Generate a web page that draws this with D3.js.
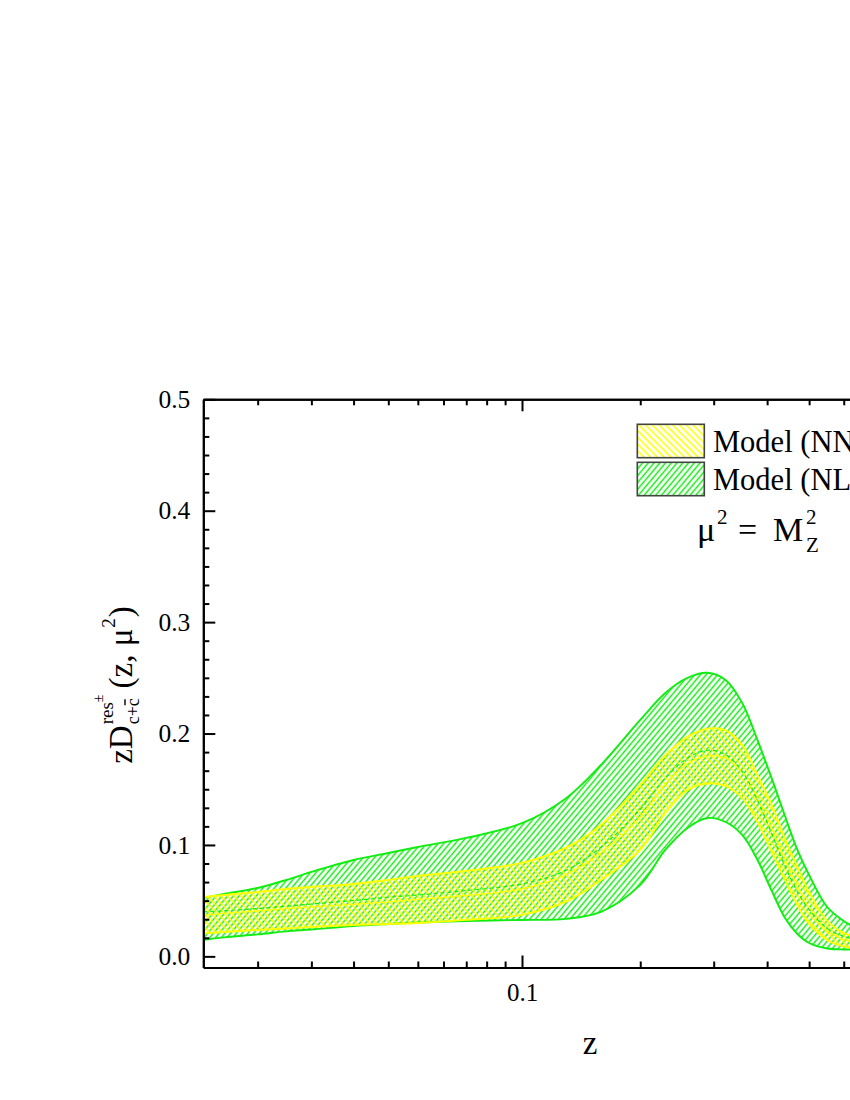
<!DOCTYPE html>
<html>
<head>
<meta charset="utf-8">
<script src="https://cdn.jsdelivr.net/npm/d3@7/dist/d3.min.js"></script>
<style>
  html, body { margin: 0; padding: 0; background: #fff; }
  svg { display: block; }
  text { font-family: "Liberation Serif", "Times New Roman", serif; fill: #000; }
</style>
</head>
<body>
<svg id="chart" width="850" height="1100"></svg>
<script>
// ---------------- data ----------------
const zGrid = [0.0023, 0.005, 0.01, 0.015, 0.02, 0.03, 0.04, 0.05, 0.07, 0.1, 0.13, 0.16, 0.2, 0.23, 0.26, 0.29, 0.32, 0.35, 0.38, 0.41, 0.44, 0.47, 0.5, 0.55, 0.6, 0.65, 0.7];

const nloHigh = [0.0524, 0.056, 0.0614, 0.0686, 0.0758, 0.0865, 0.0928, 0.0982, 0.1063, 0.1195, 0.1415, 0.1718, 0.2122, 0.2364, 0.250, 0.2545, 0.2481, 0.2275, 0.194, 0.1597, 0.126, 0.0955, 0.073, 0.0443, 0.0318, 0.0237, 0.018];
const nloLow  = [0.0147, 0.017, 0.0197, 0.0224, 0.0241, 0.0273, 0.0291, 0.0304, 0.0318, 0.0327, 0.0336, 0.0399, 0.0641, 0.0955, 0.1153, 0.1242, 0.1206, 0.109, 0.0865, 0.0587, 0.0345, 0.0201, 0.012, 0.0071, 0.0062, 0.0062, 0.0065];
const nloCentral = [0.040, 0.041, 0.043, 0.045, 0.047, 0.050, 0.053, 0.055, 0.059, 0.065, 0.077, 0.098, 0.132, 0.160, 0.178, 0.185, 0.181, 0.166, 0.140, 0.110, 0.081, 0.058, 0.042, 0.025, 0.018, 0.0145, 0.012];

const nnloHigh = [0.0533, 0.0551, 0.0578, 0.0605, 0.0623, 0.065, 0.0686, 0.0722, 0.0767, 0.0839, 0.0973, 0.118, 0.154, 0.1804, 0.197, 0.2044, 0.2028, 0.1898, 0.1624, 0.1359, 0.1054, 0.080, 0.0578, 0.0318, 0.021, 0.0165, 0.0138];
const nnloLow  = [0.0206, 0.0219, 0.0237, 0.025, 0.0264, 0.0282, 0.0291, 0.030, 0.0327, 0.0372, 0.0488, 0.0686, 0.0955, 0.1287, 0.1494, 0.1552, 0.153, 0.1422, 0.1206, 0.0937, 0.0686, 0.0461, 0.0291, 0.0147, 0.0089, 0.0066, 0.0057];
const nnloCentral = [0.037, 0.0385, 0.0408, 0.0428, 0.0444, 0.0466, 0.0488, 0.0511, 0.0547, 0.0605, 0.073, 0.093, 0.125, 0.1545, 0.1732, 0.1798, 0.1779, 0.166, 0.1415, 0.1148, 0.087, 0.063, 0.0435, 0.0232, 0.015, 0.0115, 0.0098];

const xMajorTicks = [0.1, 1];
const xMajorLabels = ["0.1", ""];
const xMinorTicks = [0.01, 0.02, 0.03, 0.04, 0.05, 0.06, 0.07, 0.08, 0.09, 0.2, 0.3, 0.4, 0.5, 0.6, 0.7, 0.8, 0.9];
const yMajorTicks = [0.0, 0.1, 0.2, 0.3, 0.4, 0.5];
const yMajorLabels = ["0.0", "0.1", "0.2", "0.3", "0.4", "0.5"];
const legendLabels = ["Model (NNLO)", "Model (NLO)"];

// ---------------- layout ----------------
const svg = d3.select("#chart");
const L = 203.3, T = 399.3, B = 967.5;
const zOffset = 0.022;            // axis transform: log10(z + offset)
const zMin = 0.0023, zMax = 1.0;
const decadePx = 454.8;
const R = L + decadePx * Math.log10((zMax + zOffset) / (zMin + zOffset));

const xs = d3.scaleLog().domain([zMin + zOffset, zMax + zOffset]).range([L, R]);
const X = z => xs(z + zOffset);
const ys = d3.scaleLinear().domain([-0.01, 0.5]).range([B, T]);

const GREEN = "#12ec12";
const YELLOW = "#ffff00";

// ---------------- patterns ----------------
const defs = svg.append("defs");
function hatch(id, color, spacing, angle, width) {
  const p = defs.append("pattern").attr("id", id)
    .attr("patternUnits", "userSpaceOnUse")
    .attr("width", spacing).attr("height", 10)
    .attr("patternTransform", `rotate(${angle})`);
  p.append("line").attr("x1", spacing / 2).attr("x2", spacing / 2)
    .attr("y1", -1).attr("y2", 11)
    .attr("stroke", color).attr("stroke-width", width);
}
hatch("hatchGreen", GREEN, 4.4, 40, 1.5);
hatch("hatchYellow", YELLOW, 4.8, -45, 1.6);

defs.append("clipPath").attr("id", "plotClip")
  .append("rect").attr("x", L).attr("y", T).attr("width", R - L).attr("height", B - T);

// ---------------- bands ----------------
const plot = svg.append("g").attr("clip-path", "url(#plotClip)");
const curve = d3.curveCatmullRom.alpha(0.5);

function band(low, high, central, color, patId, dashed) {
  const rows = zGrid.map((z, i) => ({ z, lo: low[i], hi: high[i], c: central[i] }));
  const area = d3.area().x(d => X(d.z)).y0(d => ys(d.lo)).y1(d => ys(d.hi)).curve(curve);
  plot.append("path").attr("d", area(rows)).attr("fill", `url(#${patId})`).attr("stroke", "none");
  const lineHi = d3.line().x(d => X(d.z)).y(d => ys(d.hi)).curve(curve);
  const lineLo = d3.line().x(d => X(d.z)).y(d => ys(d.lo)).curve(curve);
  [lineHi, lineLo].forEach(l => plot.append("path").attr("d", l(rows))
    .attr("fill", "none").attr("stroke", color).attr("stroke-width", 1.9));
  const lineC = d3.line().x(d => X(d.z)).y(d => ys(d.c)).curve(curve);
  return () => plot.append("path").attr("d", lineC(rows)).attr("fill", "none")
    .attr("stroke", color).attr("stroke-width", 1.2)
    .attr("stroke-dasharray", dashed ? "4,3" : null);
}
const drawGreenCentral = band(nloLow, nloHigh, nloCentral, GREEN, "hatchGreen", true);
const drawYellowCentral = band(nnloLow, nnloHigh, nnloCentral, YELLOW, "hatchYellow", false);
drawYellowCentral();
drawGreenCentral();

// ---------------- axes ----------------
function styleAxis(g) {
  g.selectAll("path.domain").attr("stroke", "#000").attr("stroke-width", 2);
  g.selectAll(".tick line").attr("stroke", "#000").attr("stroke-width", 2);
  g.selectAll("text").attr("font-family", "Liberation Serif, Times New Roman, serif").attr("fill", "#000");
}

// y minor ticks (5 between majors)
const yMinorTicks = [];
for (let i = 0; i < yMajorTicks.length - 1; i++) {
  for (let k = 1; k <= 5; k++) yMinorTicks.push(yMajorTicks[i] + (yMajorTicks[i + 1] - yMajorTicks[i]) * k / 6);
}

const yAxisMajor = d3.axisLeft(ys).tickValues(yMajorTicks)
  .tickFormat((d, i) => yMajorLabels[i]).tickSizeInner(-12).tickSizeOuter(0).tickPadding(13);
const gy = svg.append("g").attr("transform", `translate(${L},0)`).call(yAxisMajor);
gy.selectAll("text").attr("font-size", 25.5);
styleAxis(gy);
const gyMinor = svg.append("g").attr("transform", `translate(${L},0)`)
  .call(d3.axisLeft(ys).tickValues(yMinorTicks).tickFormat("").tickSizeInner(-6).tickSizeOuter(0));
styleAxis(gyMinor);

// x axis (bottom)
const xMajorVals = xMajorTicks.map(t => t + zOffset);
const xMinorVals = xMinorTicks.map(t => t + zOffset);
const xAxisMajor = d3.axisBottom(xs).tickValues(xMajorVals)
  .tickFormat((d, i) => xMajorLabels[i]).tickSizeInner(-12).tickSizeOuter(0).tickPadding(16);
const gx = svg.append("g").attr("transform", `translate(0,${B})`).call(xAxisMajor);
gx.selectAll("text").attr("font-size", 25);
styleAxis(gx);
const gxMinor = svg.append("g").attr("transform", `translate(0,${B})`)
  .call(d3.axisBottom(xs).tickValues(xMinorVals).tickFormat("").tickSizeInner(-6).tickSizeOuter(0));
styleAxis(gxMinor);

// top axis (mirror, no labels)
const gt = svg.append("g").attr("transform", `translate(0,${T})`)
  .call(d3.axisTop(xs).tickValues(xMajorVals).tickFormat("").tickSizeInner(-12).tickSizeOuter(0));
styleAxis(gt);
const gtMinor = svg.append("g").attr("transform", `translate(0,${T})`)
  .call(d3.axisTop(xs).tickValues(xMinorVals).tickFormat("").tickSizeInner(-6).tickSizeOuter(0));
styleAxis(gtMinor);

// ---------------- axis titles ----------------
svg.append("text").attr("x", 590).attr("y", 1054).attr("text-anchor", "middle")
  .attr("font-size", 33).text("z");

// y title: zD^{res±}_{c+c̄} (z, μ²)
(function () {
  const outer = svg.append("g").attr("transform", "translate(132,685) rotate(-90)");
  const g = outer.append("g");
  let x = 0;
  const t1 = g.append("text").attr("x", x).attr("y", 0).attr("font-size", 33).text("zD");
  x += t1.node().getComputedTextLength() + 1;
  const sup = g.append("text").attr("x", x).attr("y", -19).attr("font-size", 19).text("res");
  const wSup = sup.node().getComputedTextLength();
  const pm = g.append("text").attr("x", x + wSup).attr("y", -29).attr("font-size", 14).text("±");
  const wPm = pm.node().getComputedTextLength();
  const sub = g.append("text").attr("x", x).attr("y", 7).attr("font-size", 18).text("c+c");
  const wSub = sub.node().getComputedTextLength();
  const cW = g.append("text").attr("font-size", 18).text("c");
  const wc = cW.node().getComputedTextLength(); cW.remove();
  g.append("line").attr("x1", x + wSub - wc + 1).attr("x2", x + wSub - 1)
    .attr("y1", -7).attr("y2", -7).attr("stroke", "#000").attr("stroke-width", 1.4);
  x += Math.max(wSup + wPm, wSub) + 6;
  const t2 = g.append("text").attr("x", x).attr("y", 0).attr("font-size", 33).text("(z, μ");
  x += t2.node().getComputedTextLength() + 1;
  const s2 = g.append("text").attr("x", x).attr("y", -17).attr("font-size", 19).text("2");
  x += s2.node().getComputedTextLength() + 1;
  const t3 = g.append("text").attr("x", x).attr("y", 0).attr("font-size", 33).text(")");
  x += t3.node().getComputedTextLength();
  g.attr("transform", `translate(${-x / 2},0)`);
})();

// ---------------- legend ----------------
const legend = svg.append("g");
const legendRows = [
  { label: legendLabels[0], pat: "hatchYellow", y: 424.3 },
  { label: legendLabels[1], pat: "hatchGreen", y: 462.3 }
];
legendRows.forEach(r => {
  legend.append("rect").attr("x", 637.3).attr("y", r.y).attr("width", 67).attr("height", 33.4)
    .attr("fill", "#fff");
  legend.append("rect").attr("x", 637.3).attr("y", r.y).attr("width", 67).attr("height", 33.4)
    .attr("fill", `url(#${r.pat})`).attr("stroke", "#444").attr("stroke-width", 1.6);
  legend.append("text").attr("x", 713).attr("y", r.y + 27.5).attr("font-size", 30.5).text(r.label);
});

// μ² = M_Z²
(function () {
  const g = svg.append("g");
  const base = 541;
  g.append("text").attr("x", 697).attr("y", base).attr("font-size", 34).text("μ");
  g.append("text").attr("x", 717).attr("y", base - 17).attr("font-size", 21).text("2");
  g.append("text").attr("x", 738).attr("y", base).attr("font-size", 34).text("=");
  g.append("text").attr("x", 773).attr("y", base).attr("font-size", 34).text("M");
  g.append("text").attr("x", 806).attr("y", base - 17).attr("font-size", 21).text("2");
  g.append("text").attr("x", 806).attr("y", base + 11).attr("font-size", 21).text("Z");
})();
</script>
</body>
</html>
